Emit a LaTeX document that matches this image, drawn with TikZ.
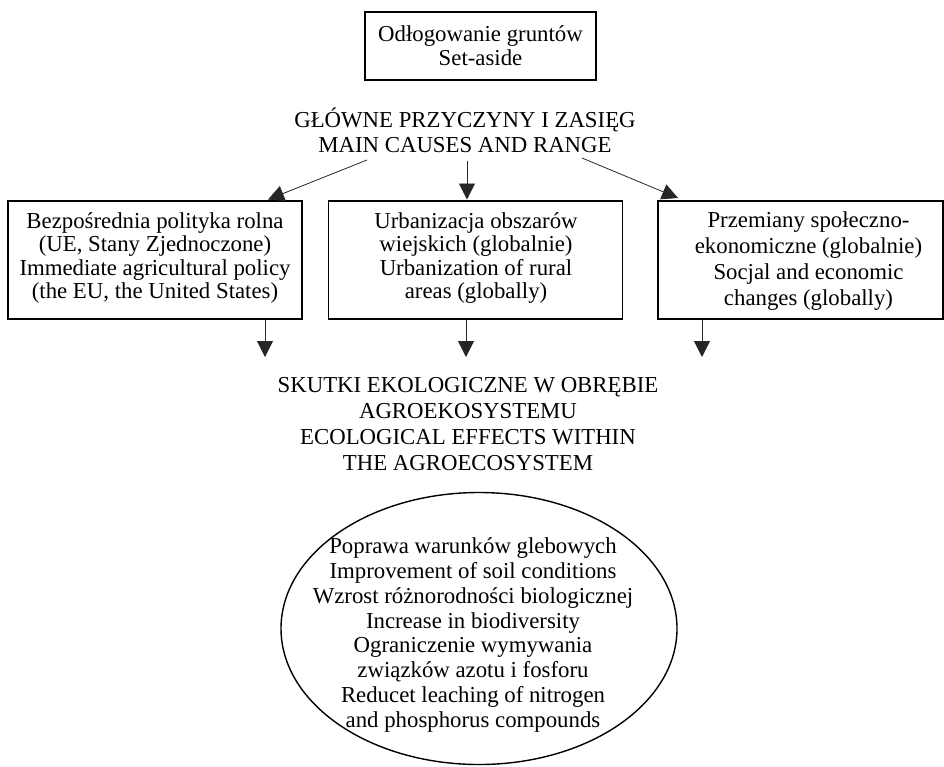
\documentclass[tikz,border=0pt]{standalone}
\usepackage{fontspec}
\setmainfont{Liberation Serif}
\usetikzlibrary{arrows.meta,shapes.geometric}
\begin{document}
\begin{tikzpicture}[x=1pt,y=-1pt,
  box/.style={draw, line width=1.7pt, inner sep=0pt},
  txt/.style={align=center, inner sep=0pt, font=\fontsize{22.8}{24.5}\selectfont},
  arr/.style={draw=black!85, line width=0.8pt, -{Triangle[width=16pt,length=16pt]}}]
\useasboundingbox[fill=white] (0,0) rectangle (944,766);

% top box
\node[box, minimum width=231pt, minimum height=68pt] (top) at (480.5,46) {};
\node[txt, font=\fontsize{22.8}{24}\selectfont] (toptxt) at (480.5,45.5) {Odłogowanie gruntów\\Set-aside};

% heading 1
\node[txt, font=\fontsize{22.8}{25}\selectfont] (h1) at (465,130) {GŁÓWNE PRZYCZYNY I ZASIĘG\\MAIN CAUSES AND RANGE};

% three boxes
\node[box, minimum width=294pt, minimum height=118pt] (boxL) at (155,260) {};
\node[box, minimum width=294pt, minimum height=118pt] (boxM) at (475.5,260) {};
\node[box, minimum width=285pt, minimum height=118pt] (boxR) at (800.5,260) {};

\node[txt, font=\fontsize{22.8}{23.4}\selectfont] (tL) at (155,258) {Bezpośrednia polityka rolna\\(UE, Stany Zjednoczone)\\Immediate agricultural policy\\(the EU, the United States)};
\node[txt, font=\fontsize{22.8}{23.4}\selectfont] (tM) at (476,258) {Urbanizacja obszarów\\wiejskich (globalnie)\\Urbanization of rural\\areas (globally)};
\node[txt, font=\fontsize{22.8}{26}\selectfont] (tR) at (808.5,261) {Przemiany społeczno-\\ekonomiczne (globalnie)\\Socjal and economic\\changes (globally)};

% arrows from heading
\coordinate (s1) at (367,160);
\coordinate (e1) at (268,199.5);
\coordinate (s2) at (467,161);
\coordinate (e2) at (467,199.5);
\coordinate (s3) at (582,158);
\coordinate (e3) at (678,198);
\draw[arr] (s1) -- (e1);
\draw[arr] (s2) -- (e2);
\draw[arr] (s3) -- (e3);

% arrows down from boxes
\coordinate (bL) at (265,320);
\coordinate (dL) at (265,357);
\coordinate (bM) at (466,320);
\coordinate (dM) at (466,357);
\coordinate (bR) at (702,320);
\coordinate (dR) at (702,357);
\draw[arr] (bL) -- (dL);
\draw[arr] (bM) -- (dM);
\draw[arr] (bR) -- (dR);

% heading 2
\node[txt, font=\fontsize{22.8}{26}\selectfont] (h2) at (468,424) {SKUTKI EKOLOGICZNE W OBRĘBIE\\AGROEKOSYSTEMU\\ECOLOGICAL EFFECTS WITHIN\\THE AGROECOSYSTEM};

% ellipse
\node[ellipse, draw, line width=1.4pt, minimum width=396pt, minimum height=272pt, inner sep=0pt] (eff) at (479,628.5) {};
\node[txt, font=\fontsize{22.8}{24.9}\selectfont] (efftxt) at (473,635) {Poprawa warunków glebowych\\Improvement of soil conditions\\Wzrost różnorodności biologicznej\\Increase in biodiversity\\Ograniczenie wymywania\\związków azotu i fosforu\\Reducet leaching of nitrogen\\and phosphorus compounds};
\end{tikzpicture}
\end{document}
